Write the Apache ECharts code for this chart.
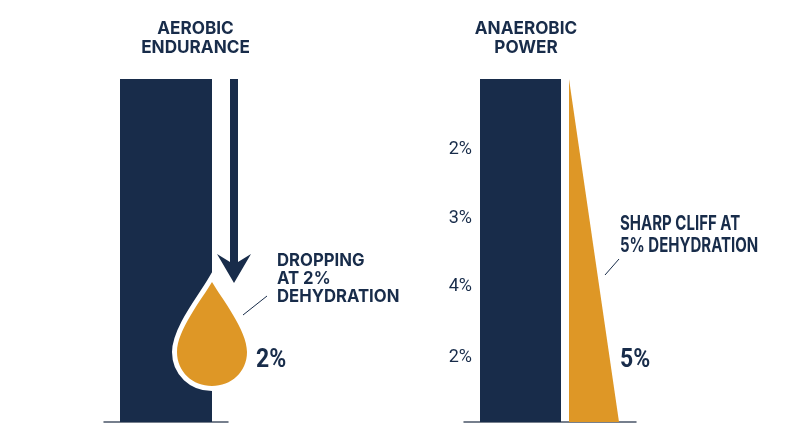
<!DOCTYPE html>
<html><head><meta charset="utf-8">
<style>html,body{margin:0;padding:0;background:#fff}#c{width:800px;height:447px}</style>
<script src="https://cdn.jsdelivr.net/npm/echarts@6/dist/echarts.min.js"></script>
</head><body><div id="c"></div>
<script>
const titles = ['AEROBIC\nENDURANCE', 'ANAEROBIC\nPOWER'];
const leftCategory = ['Aerobic endurance'];
const rightCategory = ['Anaerobic power'];
const aerobicBar = [100];
const anaerobicBar = [100];
const arrowTop = [100];
const arrowTip = [40.5];
const dropTip = [40.8];
const cliffTop = [100];
const cliffBase = [0];
const tickValues = [18.9, 39.4, 59.3, 79.4];
const tickLabels = ['2%', '4%', '3%', '2%'];
const noteLeft = 'DROPPING\nAT 2%\nDEHYDRATION';
const noteRight = 'SHARP CLIFF AT\n5% DEHYDRATION';
const valueLeft = '2%';
const valueRight = '5%';

const NAVY = '#182c4a', GOLD = '#de9726', FONT = 'Inter, Roboto, sans-serif';
const chart = echarts.init(document.getElementById('c'), null, {renderer: 'canvas'});

function cat(i, labels) {
  return {gridIndex: i, type: 'category', data: labels,
    axisLine: {show: true, onZero: false, lineStyle: {color: '#4a5568', width: 1.5}},
    axisTick: {show: false}, axisLabel: {show: false}};
}
function text(x, y, t, size, weight, lh, family, align, scaleX) {
  return {type: 'text', x: x, y: y, scaleX: scaleX || 1, style: {text: t, fill: NAVY,
    font: weight + ' ' + size + 'px ' + (family || FONT), lineHeight: lh,
    align: align || 'left', verticalAlign: 'middle'}};
}
function leader(x1, y1, x2, y2) {
  return {type: 'line', shape: {x1, y1, x2, y2}, style: {stroke: NAVY, lineWidth: 1}};
}

chart.setOption({
  animation: false,
  backgroundColor: '#fff',
  grid: [
    {left: 104, width: 124, top: 79, height: 343},
    {left: 464, width: 172, top: 79, height: 343}
  ],
  xAxis: [cat(0, leftCategory), cat(1, rightCategory)],
  yAxis: [
    {gridIndex: 0, type: 'value', min: 0, max: 100, show: false},
    {gridIndex: 1, type: 'value', min: 0, max: 100, offset: -8,
      axisLine: {show: false}, axisTick: {show: false}, splitLine: {show: false},
      axisLabel: {margin: 0, color: NAVY, fontFamily: 'Roboto, sans-serif', fontSize: 18,
        customValues: tickValues,
        formatter: v => tickLabels[tickValues.indexOf(v)] || ''}}
  ],
  series: [
    {type: 'bar', xAxisIndex: 0, yAxisIndex: 0, data: aerobicBar, barWidth: 92, z: 1,
      itemStyle: {color: NAVY}},
    {type: 'custom', xAxisIndex: 0, yAxisIndex: 0, clip: false, z: 3,
      data: leftCategory.map((_, i) => [i, arrowTop[i], arrowTip[i]]),
      renderItem(p, api) {
        const top = api.coord([api.value(0), api.value(1)]);
        const tip = api.coord([api.value(0), api.value(2)]);
        const x = top[0] + 68;
        return {type: 'polygon', shape: {points: [
          [x - 4, top[1]], [x + 4, top[1]], [x + 4, tip[1] - 21], [x + 17, tip[1] - 29],
          [x, tip[1]], [x - 17, tip[1] - 29], [x - 4, tip[1] - 21]]},
          style: {fill: NAVY}};
      }},
    {type: 'custom', xAxisIndex: 0, yAxisIndex: 0, clip: false, z: 4,
      data: leftCategory.map((_, i) => [i, dropTip[i]]),
      renderItem(p, api) {
        const c = api.coord([api.value(0), api.value(1)]);
        const x = c[0] + 46, y = c[1];
        const path = `M${x} ${y} C${x + 10} ${y + 17} ${x + 35} ${y + 48} ${x + 35} ${y + 70} ` +
          `C${x + 35} ${y + 90} ${x + 19} ${y + 104} ${x} ${y + 104} ` +
          `C${x - 19} ${y + 104} ${x - 35} ${y + 90} ${x - 35} ${y + 70} ` +
          `C${x - 35} ${y + 48} ${x - 10} ${y + 17} ${x} ${y}Z`;
        const shape = {pathData: path, layout: 'cover', x: x - 35, y: y, width: 70, height: 104};
        return {type: 'group', children: [
          {type: 'path', shape, style: {fill: '#fff', stroke: '#fff', lineWidth: 10, lineJoin: 'miter', miterLimit: 6}},
          {type: 'path', shape, style: {fill: GOLD}}
        ]};
      }},
    {type: 'custom', xAxisIndex: 1, yAxisIndex: 1, clip: false,
      data: rightCategory.map((_, i) => [i, anaerobicBar[i]]),
      renderItem(p, api) {
        const top = api.coord([api.value(0), api.value(1)]);
        const base = api.coord([api.value(0), 0]);
        return {type: 'rect', shape: {x: top[0] - 70, y: top[1], width: 81, height: base[1] - top[1]},
          style: {fill: NAVY}};
      }},
    {type: 'custom', xAxisIndex: 1, yAxisIndex: 1, clip: false,
      data: rightCategory.map((_, i) => [i, cliffTop[i], cliffBase[i]]),
      renderItem(p, api) {
        const top = api.coord([api.value(0), api.value(1)]);
        const base = api.coord([api.value(0), api.value(2)]);
        const x = top[0] + 19;
        return {type: 'polygon', shape: {points: [[x, top[1]], [x + 50, base[1]], [x, base[1]]]},
          style: {fill: GOLD}};
      }}
  ],
  graphic: [
    text(195.5, 38.5, titles[0], 17.5, 700, 19, null, 'center', 0.98),
    text(526, 38.5, titles[1], 17.5, 700, 19, null, 'center', 0.98),
    text(277, 278.5, noteLeft, 17.5, 700, 18, null, 'left', 0.955),
    text(620, 235, noteRight, 20, 700, 22, null, 'left', 0.75),
    text(256, 361, valueLeft, 25, 700, 24, 'Roboto, sans-serif', 'left', 0.92),
    text(620, 361, valueRight, 25, 700, 24, 'Roboto, sans-serif', 'left', 0.92),
    leader(243, 315, 267, 296),
    leader(605, 275, 619, 259)
  ]
});
</script></body></html>
